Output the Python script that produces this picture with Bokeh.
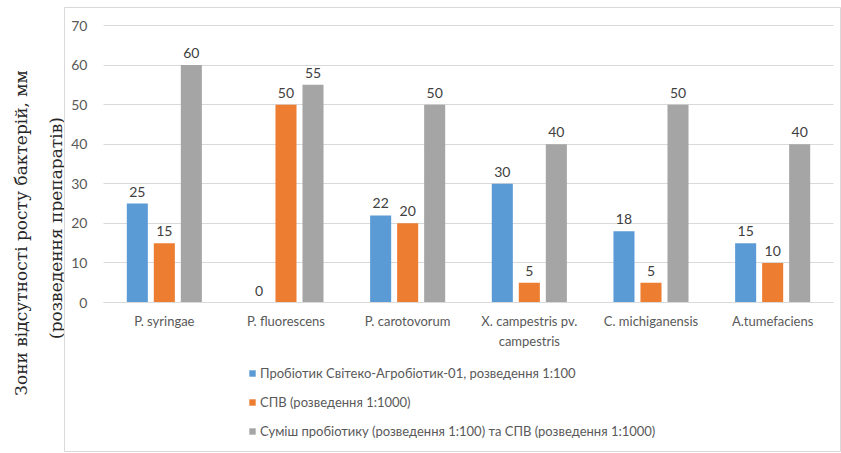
from math import pi

from bokeh.plotting import figure
from bokeh.layouts import row
from bokeh.models import (ColumnDataSource, Range1d, Legend, LegendItem,
                          FixedTicker, LinearAxis, Grid)
from bokeh.embed import file_html
from bokeh.resources import INLINE
from bokeh.core.properties import value

# Bacteria tested (x categories)
categories = ["P. syringae", "P. fluorescens", "P. carotovorum",
              "X. campestris pv.\ncampestris", "C. michiganensis", "A.tumefaciens"]

# Growth-free zones, mm
probiotic = [25, 0, 22, 30, 18, 15]
spv = [15, 50, 20, 5, 5, 10]
mixture = [60, 55, 50, 40, 50, 40]

series_names = [
    "Пробіотик Світеко-Агробіотик-01, розведення 1:100",
    "СПВ (розведення 1:1000)",
    "Суміш пробіотику (розведення 1:100) та СПВ (розведення 1:1000)",
]
y_ticks = [0, 10, 20, 30, 40, 50, 60, 70]
y_title_lines = ["Зони відсутності росту бактерій, мм", "(розведення препаратів)"]

colors = ["#5B9BD5", "#ED7D31", "#A5A5A5"]
sans = "Lato, 'Noto Sans', sans-serif"
serif = "'DejaVu Serif', 'Liberation Serif', serif"

# ---- left strip holding the vertical axis title ----
title_fig = figure(width=64, height=453, x_range=Range1d(0, 64), y_range=Range1d(0, 453),
                   x_axis_location=None, y_axis_location=None,
                   output_backend="svg", toolbar_location=None,
                   min_border=0)
title_fig.outline_line_color = None
title_fig.xgrid.visible = False
title_fig.ygrid.visible = False
title_fig.text(x=[20, 55], y=[223, 228], text=y_title_lines, angle=pi / 2,
               text_align="center", text_baseline="middle",
               text_font=value(serif), text_font_size="17px", text_color="#262626")

# ---- main chart: frame is the whole chart box; bars use x 0..6 and y 0..70 ----
cat_pos = [i + 0.5 for i in range(len(categories))]

source = ColumnDataSource(data=dict(
    pos=cat_pos,
    s0=probiotic, s1=spv, s2=mixture,
    l0=[str(v) for v in probiotic],
    l1=[str(v) for v in spv],
    l2=[str(v) for v in mixture],
))

p = figure(width=777, height=453,
           x_range=Range1d(-0.3205, 6.0658),
           y_range=Range1d(-37.65, 74.55),
           x_axis_location=None, y_axis_location=None,
           output_backend="svg", toolbar_location=None,
           min_border_left=0, min_border_right=0,
           min_border_top=7, min_border_bottom=2)

p.outline_line_color = "#d9d9d9"
p.background_fill_color = "white"
p.border_fill_color = "white"
p.xgrid.visible = False
p.ygrid.visible = False

# y axis drawn at the left edge of the bar area
yaxis = LinearAxis(ticker=FixedTicker(ticks=y_ticks), bounds=(0, 70),
                   fixed_location=0)
yaxis.axis_line_color = None
yaxis.major_tick_line_color = None
yaxis.minor_tick_line_color = None
yaxis.major_label_standoff = 10
yaxis.major_label_text_font = sans
yaxis.major_label_text_font_size = "14px"
yaxis.major_label_text_color = "#595959"
p.add_layout(yaxis, "left")

# x axis along the zero line
xaxis = LinearAxis(ticker=FixedTicker(ticks=cat_pos), bounds=(0, 6),
                   fixed_location=0,
                   major_label_overrides={pos: name for pos, name in zip(cat_pos, categories)})
xaxis.axis_line_color = "#d9d9d9"
xaxis.major_tick_line_color = None
xaxis.minor_tick_line_color = None
xaxis.major_label_standoff = 4
xaxis.major_label_text_font = sans
xaxis.major_label_text_font_size = "13px"
xaxis.major_label_text_color = "#595959"
xaxis.major_label_text_line_height = 1.28
p.add_layout(xaxis, "below")

grid = Grid(dimension=1, ticker=yaxis.ticker, bounds=(0, 70), cross_bounds=(0, 6),
            grid_line_color="#d9d9d9", grid_line_width=1)
p.add_layout(grid)

offsets = [-0.222, 0.0, 0.222]
bar_width = 0.173
items = []
for i, (off, col, name) in enumerate(zip(offsets, colors, series_names)):
    xs = [c + off for c in cat_pos]
    source.data[f"x{i}"] = xs
    r = p.vbar(x=f"x{i}", top=f"s{i}", width=bar_width, source=source,
               fill_color=col, line_color=None)
    p.text(x=f"x{i}", y=f"s{i}", text=f"l{i}", source=source,
           text_align="center", text_baseline="alphabetic", y_offset=-12,
           text_font=value(sans), text_font_size="14px", text_color="#404040")
    items.append(LegendItem(label=name, renderers=[r]))

legend = Legend(items=items, location=(184, 10), orientation="vertical",
                glyph_width=8, glyph_height=8, label_standoff=4, spacing=9,
                label_height=20, padding=0, margin=0,
                border_line_color=None, background_fill_alpha=0,
                label_text_font=sans, label_text_font_size="13px",
                label_text_color="#595959")
p.add_layout(legend)

layout = row(title_fig, p, spacing=0)

open("out.html", "w").write(file_html(layout, INLINE))
